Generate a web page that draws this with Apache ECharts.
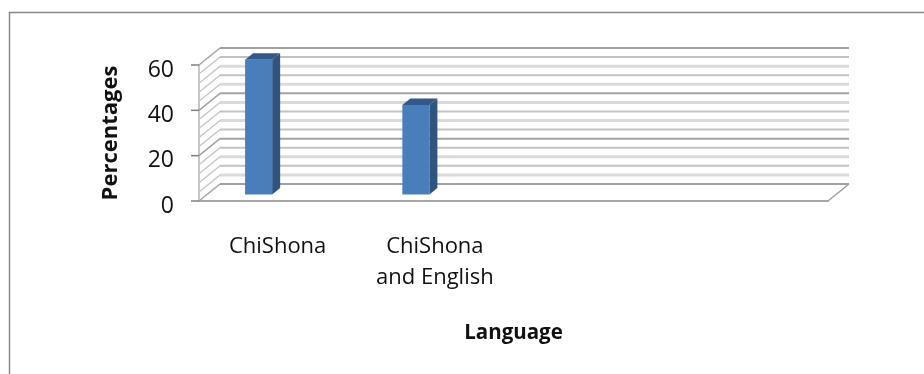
<!DOCTYPE html>
<html><head><meta charset="utf-8">
<style>html,body{margin:0;padding:0;background:#fff}#c{width:924px;height:374px}</style>
<script src="https://cdn.jsdelivr.net/npm/echarts@6/dist/echarts.min.js"></script>
</head><body><div id="c"></div>
<script>
const categories = ['ChiShona', 'ChiShona\nand English', '', ''];
const percentages = [59.5, 39.5, null, null];
const yTicks = [0, 20, 40, 60];
const minorTicks = [0,4,8,12,16,20,24,28,32,36,40,44,48,52,56,60];

const DX = 21, DY = -17;
const FONT = 'Open Sans';
const chart = echarts.init(document.getElementById('c'), null, {renderer:'canvas'});

function seg(x1,y1,x2,y2,stroke,w){
  return {type:'line',shape:{x1,y1,x2,y2},style:{stroke,lineWidth:w}};
}
chart.setOption({
  animation:false,
  backgroundColor:'#fff',
  grid:{left:199,top:65,width:629,height:136,containLabel:false},
  xAxis:{type:'category',data:categories,
    axisTick:{show:false},
    axisLine:{lineStyle:{color:'#a6a6a6',width:2}},
    axisLabel:{color:'#111',fontFamily:FONT,fontSize:22,margin:30,lineHeight:31,interval:0},
    name:'Language',nameLocation:'middle',nameGap:122,
    nameTextStyle:{color:'#111',fontFamily:FONT,fontSize:20.5,fontWeight:'bold'}},
  yAxis:{type:'value',min:0,max:60,interval:20,
    splitLine:{show:false},
    axisLine:{show:true,lineStyle:{color:'#b4b4b4',width:1.5}},
    axisTick:{show:false},
    axisLabel:{color:'#111',fontFamily:FONT,fontSize:23,margin:25,verticalAlign:'top',lineHeight:10},
    name:'Percentages',nameLocation:'middle',nameGap:77,
    nameTextStyle:{color:'#111',fontFamily:FONT,fontSize:22,fontWeight:'bold'}},
  series:[
    {type:'custom',coordinateSystem:'cartesian2d',silent:true,z:1,
     data:minorTicks.map(v=>[0,v]),encode:{x:0,y:1},
     renderItem(p,api){
       const v=api.value(1), pt=api.coord([0,v]);
       const cs=p.coordSys;
       const major=v%20===0;
       const odd=(v/4)%2===1;
       const col=major?'#a2a2a2':(odd?'#dadada':'#c2c2c2');
       const w=major?2:(odd?3:2);
       const y=pt[1]+DY;
       const ch=[seg(cs.x+DX,y,cs.x+cs.width+DX,y,col,w),
                 seg(cs.x,pt[1],cs.x+DX,y,major?'#a2a2a2':'#c4c4c4',major?1.5:1.3)];
       if(yTicks.includes(v)) ch.push(seg(cs.x-8,pt[1],cs.x,pt[1],'#808080',1.5));
       if(v===0){ ch.push(seg(cs.x+cs.width,pt[1],cs.x+cs.width+DX,y,'#a0a0a0',1.5)); }
       return {type:'group',children:ch};
     }},
    {type:'custom',coordinateSystem:'cartesian2d',silent:true,z:3,
     data:percentages.map((v,i)=>[i,v]).filter(d=>d[1]!=null),encode:{x:0,y:1},
     renderItem(p,api){
       const c=api.value(0), v=api.value(1);
       const top=api.coord([c,v]), base=api.coord([c,0]);
       const w=api.size([1,0])[0]*0.172;
       const ox=-19, oy=-6.5, dx=8, dy=-6.5;
       const x0=top[0]+ox-w/2, x1=x0+w, yt=top[1]+oy, yb=base[1]+oy;
       return {type:'group',children:[
         {type:'polygon',shape:{points:[[x1,yt],[x1+dx,yt+dy],[x1+dx,yb+dy],[x1,yb]]},style:{fill:'#2f5480'}},
         {type:'polygon',shape:{points:[[x0,yt],[x0+dx,yt+dy],[x1+dx,yt+dy],[x1,yt]]},style:{fill:'#33598a'}},
         {type:'rect',shape:{x:x0,y:yt,width:w,height:yb-yt},style:{fill:'#4a7ebb'}}
       ]};
     }}
  ],
  graphic:[
    {type:'polyline',silent:true,shape:{points:[[9.5,374],[9.5,12.5],[924,12.5]]},style:{stroke:'#888',lineWidth:1.5,fill:null}}
  ]
});
</script></body></html>
